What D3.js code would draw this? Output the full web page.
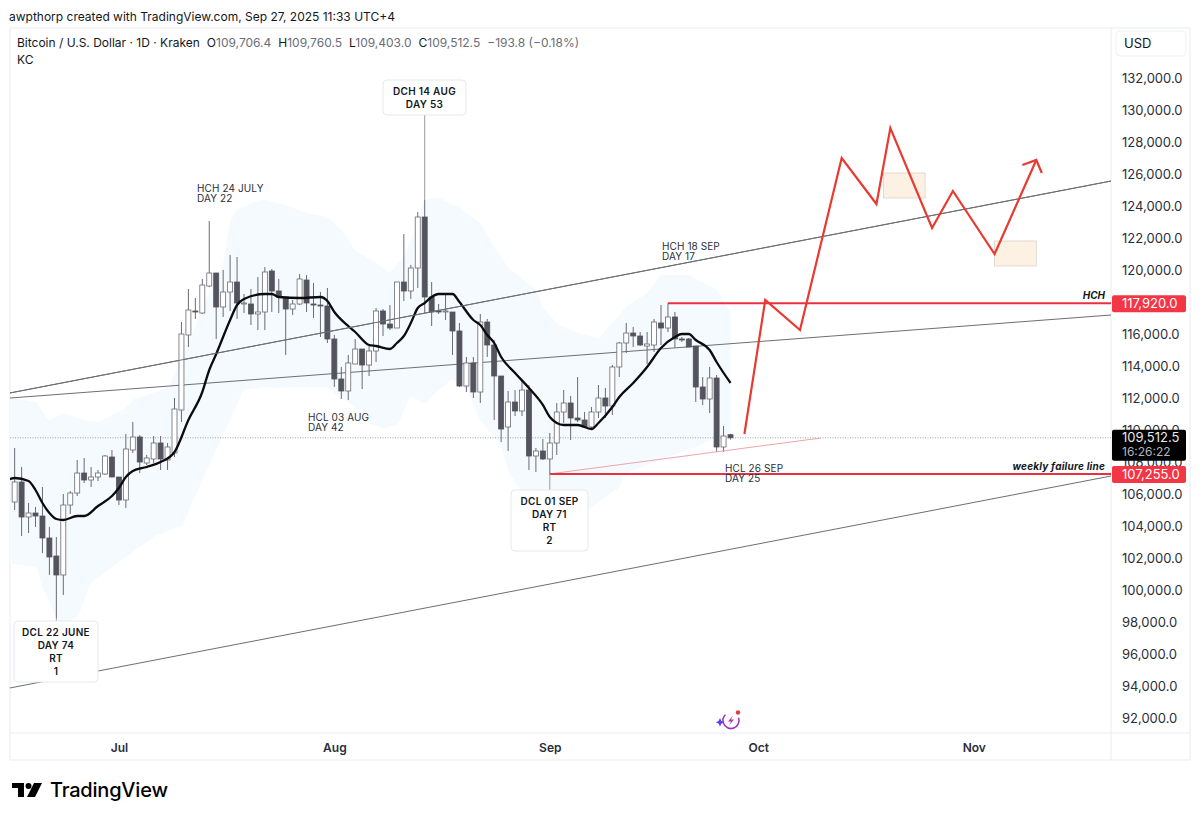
<!DOCTYPE html>
<html>
<head>
<meta charset="utf-8">
<script src="https://cdnjs.cloudflare.com/ajax/libs/d3/7.8.5/d3.min.js"></script>
<style>
  html, body { margin: 0; padding: 0; background: #fff; }
  svg { display: block; font-family: Inter, "Noto Sans", sans-serif; }
</style>
</head>
<body>
<svg id="chart" width="1200" height="820"></svg>
<script>
// daily candles from 16 Jun 2025
var firstCandle = '2025-06-16';
var opens = [105500,106750,104562,104812,104625,103250,102125,100938,105312,106062,107312,106875,107062,107250,108312,
  107062,105625,108750,109562,107938,108188,109188,108125,108562,111250,115938,117438,117312,119000,119812,
  117688,118625,119250,117875,117875,117250,117375,119938,118688,118312,117562,117875,119375,117875,117812,117750,
  115688,113188,112438,114125,115062,114062,114938,117438,116625,116375,119250,118688,120125,123312,118312,117438,117375,117375,116188,
  112750,114188,112375,116750,115312,113375,110188,111750,111188,112500,108375,108688,
  108188,109188,111125,111688,110750,110625,110188,111125,112000,111500,113938,115438,116062,115875,115250,115312,116688,116375,
  117062,115688,115688,115250,112688,111938,113250,108938,109706.4];
var highs = [108875,107688,105438,105188,106438,103938,103312,106000,106188,108125,108250,107688,107500,108438,108750,
  107062,109750,110500,109688,108438,109625,109625,109188,112000,116750,118812,118250,119438,123062,119812,
  120000,120938,120812,118500,118812,119562,120188,120062,119438,118312,118125,119750,119688,119188,118625,118875,
  115938,113938,114688,115688,115062,115250,117625,117562,117812,119250,122250,120312,123625,124375,119250,117875,118438,117375,116688,
  114562,114562,117250,116938,115625,113375,112438,112500,113125,112812,108875,109438,
  109812,111688,112500,112125,113312,111125,111438,112812,112625,114062,115500,116688,116438,116125,116125,116938,117812,117920,
  117375,115812,115750,115250,113312,113938,113438,110250,109760.5];
var lows = [105000,103375,103562,103938,102312,100938,98250,99688,104750,105875,106688,106438,106812,107188,107062,
  105312,105125,108562,107312,107812,107938,107500,107500,108312,110500,115188,116938,117250,118938,115688,
  117062,117438,116938,117312,116562,116250,116250,117375,117312,114688,117188,117812,117375,117000,115812,115438,
  112688,111938,111875,114125,112562,113375,114250,115875,116250,116375,118062,118188,118875,117312,116500,117250,116875,114688,112688,
  112375,112000,111688,114562,110625,109250,108688,110875,110875,107500,107375,108125,
  107255,108438,110438,109375,110500,110125,110125,110750,110750,110938,113312,114812,115188,115250,114125,114875,115312,116125,
  115125,115500,115188,111750,111562,111062,108625,108625,109403];
var closes = [106750,104562,104812,104625,103250,102062,100938,105312,106062,107312,106875,107062,107312,108375,107062,
  105625,108812,109562,108000,108250,109188,108188,108938,111312,116000,117500,117375,119062,119812,117688,
  118625,119250,117938,117938,117250,117375,119875,118688,118312,117562,117875,119438,117938,117812,117750,115688,
  113188,112438,114188,115062,114062,114938,117438,116625,116375,119250,118688,120125,123312,118312,117375,117375,117438,116188,112750,
  114188,112375,116750,115312,113375,110062,111750,111188,112500,108375,108688,108188,
  109188,111125,111688,110750,110625,110188,111125,112000,111500,113938,115438,116062,115875,115312,115375,116750,116375,117062,
  115688,115625,115188,112688,111938,113250,108938,109625,109512.5];

// Keltner channel, sampled as day number from the first candle
var basisDays = [-1,0,2,3,4,5,6,7,9,10,12,14,15,16,17,19,21,23,25,27,28,29,31,32,33,36,37,38,41,44,45,46,48,49,51,52,54,55,56,57,58,59,60,61,63,64,66,67,68,69,70,72,74,76,77,78,79,81,83,84,86,87,89,91,93,95,96,97,98,100,101,103];
var basisValues = [106875,107000,106813,106250,105438,104813,104438,104375,104625,104625,105250,105875,106375,107063,107438,107688,108000,108625,110625,112375,113750,114750,116875,117813,118188,118500,118500,118313,118250,118313,118063,117375,116500,116125,115313,115250,115063,115438,115875,116688,117625,117938,118313,118500,118500,118000,116875,116563,115938,115438,114563,113563,112625,111563,110813,110438,110313,110313,110063,110438,111438,112063,112938,113938,115125,115813,116000,116000,115625,115000,114250,112938];
var upperDays = [-1,3,5,7,10,12,16,17,19,22,24,28,30,31,32,34,36,39,42,45,47,49,52,54,56,58,59,61,64,67,69,71,75,76,78,81,84,86,88,91,93,97,101,103];
var upperValues = [112063,111750,110625,111063,110625,110500,111375,111875,112188,112625,114375,118563,120438,122938,123750,124188,124375,124063,123563,123313,122500,121250,120438,119875,120813,122938,124375,124500,123875,122938,121438,120188,118750,117688,116688,116063,115750,116688,117688,118563,119688,119688,118750,117375];
var lowerDays = [-1,3,4,6,7,9,11,14,17,20,23,24,28,31,33,36,38,40,42,45,46,49,51,53,55,57,59,61,63,65,67,70,71,74,77,80,83,87,88,94,98,103];
var lowerValues = [101688,101438,100188,98313,97938,98313,100438,101438,102375,103313,103875,103938,107813,110625,112500,112688,112625,112688,112688,112688,112313,111438,110438,110125,110313,112063,111688,112500,113125,112500,110625,108938,107500,105313,104375,104688,105188,106438,107313,108313,108938,109875];

// trend lines drawn on the chart [date, price]
var channelUpper = [['2025-06-15', 112288], ['2025-11-21', 125581]];
var channelMiddle = [['2025-06-15', 111988], ['2025-11-21', 117194]];
var channelLower = [['2025-06-15', 93850], ['2025-11-21', 107144]];
var pinkLine = [['2025-09-01', 107255], ['2025-10-10', 109500]];
var hchLine = [['2025-09-18', 117920], ['2025-11-21', 117920]];
var failureLine = [['2025-09-01', 107255], ['2025-11-21', 107255]];
var forecastPath = [['2025-09-29', 109750], ['2025-10-02', 118125], ['2025-10-07', 116250], ['2025-10-13', 127000],
  ['2025-10-18', 124125], ['2025-10-20', 128875], ['2025-10-26', 122625], ['2025-10-29', 124938], ['2025-11-04', 121000], ['2025-11-10', 126875]];
var forecastHead = [['2025-11-08', 126563], ['2025-11-10', 126875], ['2025-11-10T19:00', 126063]];
var boxes = [['2025-10-19', '2025-10-25', 126063, 124500], ['2025-11-04', '2025-11-10', 121813, 120250]];

var priceTicks = d3.range(92000, 132001, 2000);
var monthTicks = ['2025-07-01', '2025-08-01', '2025-09-01', '2025-10-01', '2025-11-01'];
var monthLabels = ['Jul', 'Aug', 'Sep', 'Oct', 'Nov'];

var lastPrice = 109512.5;
var tagPrices = [117920, 107255];

var calloutDates = ['2025-06-22', '2025-08-14', '2025-09-01'];
var calloutPrices = [98250, 124375, 107255];
var calloutLines = [['DCL 22 JUNE', 'DAY 74', 'RT', '1'], ['DCH 14 AUG', 'DAY 53'], ['DCL 01 SEP', 'DAY 71', 'RT', '2']];

function parseDate(s) {
  return new Date(s.length > 10 ? s + ':00Z' : s + 'T00:00:00Z');
}

var paneLeft = 10, paneRight = 1111, paneTop = 28, paneBottom = 733, frameRight = 1190, frameBottom = 760;

var x = d3.scaleUtc()
  .domain([parseDate('2025-07-01'), parseDate('2025-11-01')])
  .range([118.9, 973.75]);
var y = d3.scaleLinear()
  .domain([92000, 132000])
  .range([718, 78]);

function dayX(n) {
  return x(d3.utcDay.offset(parseDate(firstCandle), n));
}

var svg = d3.select('#chart');

svg.append('text')
  .attr('x', 9).attr('y', 21)
  .attr('font-size', 12).attr('fill', '#131722')
  .text('awpthorp created with TradingView.com, Sep 27, 2025 11:33 UTC+4');

// frame
var frame = svg.append('g').attr('stroke', '#e9ecf1').attr('fill', 'none');
frame.append('rect').attr('x', paneLeft).attr('y', paneTop)
  .attr('width', frameRight - paneLeft).attr('height', frameBottom - paneTop);
frame.append('line').attr('x1', paneRight).attr('x2', paneRight).attr('y1', paneTop).attr('y2', frameBottom);
frame.append('line').attr('x1', paneLeft).attr('x2', frameRight).attr('y1', paneBottom).attr('y2', paneBottom);

svg.append('clipPath').attr('id', 'pane').append('rect')
  .attr('x', paneLeft).attr('y', paneTop)
  .attr('width', paneRight - paneLeft).attr('height', paneBottom - paneTop);

var plot = svg.append('g').attr('clip-path', 'url(#pane)');

// Keltner band, upper and lower are sampled on different days
var merged = d3.range(-1, 104);
var upperAt = d3.scaleLinear().domain(upperDays).range(upperValues);
var lowerAt = d3.scaleLinear().domain(lowerDays).range(lowerValues);
var band = d3.area()
  .x(function (d) { return dayX(d); })
  .y0(function (d) { return y(lowerAt(d)); })
  .y1(function (d) { return y(upperAt(d)); })
  .curve(d3.curveMonotoneX);
plot.append('path').datum(merged)
  .attr('d', band)
  .attr('fill', '#f5fafe');

// dotted last price line
plot.append('line')
  .attr('x1', paneLeft).attr('x2', paneRight)
  .attr('y1', y(lastPrice)).attr('y2', y(lastPrice))
  .attr('stroke', '#8a8d96').attr('stroke-width', 0.8).attr('stroke-dasharray', '1 1.5');

var trend = d3.line()
  .x(function (d) { return x(parseDate(d[0])); })
  .y(function (d) { return y(d[1]); });

[channelUpper, channelMiddle, channelLower].forEach(function (pts) {
  plot.append('path').attr('d', trend(pts))
    .attr('fill', 'none').attr('stroke', '#6d6f76').attr('stroke-width', 1);
});

// candles
var candles = opens.map(function (o, i) {
  return { i: i, o: o, h: highs[i], l: lows[i], c: closes[i] };
});
var candle = plot.selectAll('g.candle').data(candles).enter().append('g').attr('class', 'candle');
candle.append('line')
  .attr('x1', function (d) { return dayX(d.i); })
  .attr('x2', function (d) { return dayX(d.i); })
  .attr('y1', function (d) { return y(d.h); })
  .attr('y2', function (d) { return y(d.l); })
  .attr('stroke', '#6a6b73').attr('stroke-width', 1);
candle.append('rect')
  .attr('x', function (d) { return dayX(d.i) - 2.5; })
  .attr('width', 5)
  .attr('y', function (d) { return y(Math.max(d.o, d.c)); })
  .attr('height', function (d) { return Math.max(1, Math.abs(y(d.o) - y(d.c))); })
  .attr('fill', function (d) { return d.c >= d.o ? '#fff' : '#54545e'; })
  .attr('stroke', function (d) { return d.c >= d.o ? '#6a6b73' : '#54545e'; })
  .attr('stroke-width', 0.8);

// Keltner basis
var basisLine = d3.line()
  .x(function (d, i) { return dayX(basisDays[i]); })
  .y(function (d) { return y(d); })
  .curve(d3.curveMonotoneX);
plot.append('path').attr('d', basisLine(basisValues))
  .attr('fill', 'none').attr('stroke', '#0c0c0e').attr('stroke-width', 2.3);

// red levels
plot.append('path').attr('d', trend(pinkLine)).attr('fill', 'none').attr('stroke', '#f0a3ab').attr('stroke-width', 1);
[hchLine, failureLine].forEach(function (pts) {
  plot.append('path').attr('d', trend(pts)).attr('fill', 'none').attr('stroke', '#e8303f').attr('stroke-width', 2);
});

// target boxes
plot.selectAll('rect.box').data(boxes).enter().append('rect')
  .attr('class', 'box')
  .attr('x', function (d) { return x(parseDate(d[0])); })
  .attr('y', function (d) { return y(d[2]); })
  .attr('width', function (d) { return x(parseDate(d[1])) - x(parseDate(d[0])); })
  .attr('height', function (d) { return y(d[3]) - y(d[2]); })
  .attr('fill', '#fdf1e4').attr('stroke', '#d9d2ca').attr('stroke-width', 0.8);

// redraw the channel over the boxes, forecast on top
plot.append('path').attr('d', trend(channelUpper))
  .attr('fill', 'none').attr('stroke', '#6d6f76').attr('stroke-width', 1);
[forecastPath, forecastHead].forEach(function (pts) {
  plot.append('path').attr('d', trend(pts))
    .attr('fill', 'none').attr('stroke', '#e83a30').attr('stroke-width', 2.2).attr('stroke-linejoin', 'miter');
});

// callouts, box geometry follows the order of calloutDates
var calloutLeft = [14, 383, 511];
var calloutTop = [621, 80, 490];
var calloutWidth = [84, 83, 77];
calloutDates.forEach(function (date, k) {
  var lines = calloutLines[k];
  var height = lines.length > 2 ? 61 : 35;
  var cx = x(parseDate(date));
  var tipY = y(calloutPrices[k]);
  var below = tipY < calloutTop[k];
  plot.append('line')
    .attr('x1', cx).attr('x2', cx)
    .attr('y1', below ? tipY : calloutTop[k] + height).attr('y2', below ? calloutTop[k] : tipY)
    .attr('stroke', '#9a9ca3').attr('stroke-width', 1);
  plot.append('rect')
    .attr('x', calloutLeft[k]).attr('y', calloutTop[k])
    .attr('width', calloutWidth[k]).attr('height', height).attr('rx', 4)
    .attr('fill', '#fff').attr('stroke', '#e6e8ed');
  lines.forEach(function (line, i) {
    plot.append('text')
      .attr('x', calloutLeft[k] + calloutWidth[k] / 2).attr('y', calloutTop[k] + 15 + i * 13)
      .attr('text-anchor', 'middle').attr('font-size', 10).attr('font-weight', 600)
      .attr('letter-spacing', 0.3).attr('fill', '#131722')
      .text(line);
  });
});

// plain notes
function note(left, top, lines) {
  lines.forEach(function (line, i) {
    plot.append('text')
      .attr('x', left).attr('y', top + i * 10)
      .attr('font-size', 10).attr('letter-spacing', 0.1).attr('fill', '#2a2e39')
      .text(line);
  });
}
note(197, 192, ['HCH 24 JULY', 'DAY 22']);
note(662, 250, ['HCH 18 SEP', 'DAY 17']);
note(308, 421, ['HCL 03 AUG', 'DAY 42']);
note(725, 472, ['HCL 26 SEP', 'DAY 25']);

plot.append('text').attr('x', 1105).attr('y', 299)
  .attr('text-anchor', 'end').attr('font-size', 10).attr('font-weight', 700).attr('font-style', 'italic')
  .attr('fill', '#131722').text('HCH');
plot.append('text').attr('x', 1105).attr('y', 470)
  .attr('text-anchor', 'end').attr('font-size', 10).attr('font-weight', 700).attr('font-style', 'italic')
  .attr('letter-spacing', 0.2).attr('fill', '#131722').text('weekly failure line');

// price axis
var priceFormat = d3.format(',.1f');
var yAxis = d3.axisRight(y)
  .tickValues(priceTicks)
  .tickSize(0)
  .tickPadding(11)
  .tickFormat(priceFormat);
var yG = svg.append('g')
  .attr('transform', 'translate(' + paneRight + ',0)')
  .call(yAxis);
yG.select('.domain').remove();
yG.selectAll('text').attr('font-family', 'Inter').attr('font-size', 13).attr('fill', '#2a2e39');

// month axis
var xAxis = d3.axisBottom(x)
  .tickValues(monthTicks.map(parseDate))
  .tickSize(0)
  .tickPadding(10)
  .tickFormat(function (d, i) { return monthLabels[i]; });
var xG = svg.append('g')
  .attr('transform', 'translate(0,' + paneBottom + ')')
  .call(xAxis);
xG.select('.domain').remove();
xG.selectAll('text').attr('font-family', 'Inter').attr('font-size', 12).attr('font-weight', 600).attr('fill', '#2a2e39');

// USD button
svg.append('rect').attr('x', 1116).attr('y', 31).attr('width', 70).attr('height', 25).attr('rx', 4)
  .attr('fill', '#fff').attr('stroke', '#f0f1f4');
svg.append('text').attr('x', 1124).attr('y', 48).attr('font-size', 13).attr('fill', '#131722').text('USD');

// price tags
tagPrices.forEach(function (p) {
  svg.append('rect')
    .attr('x', paneRight + 1).attr('y', y(p) - 8)
    .attr('width', 74).attr('height', 17).attr('rx', 2)
    .attr('fill', '#f23645');
  svg.append('text')
    .attr('x', paneRight + 11).attr('y', y(p) + 5)
    .attr('font-size', 13).attr('fill', '#fff')
    .text(priceFormat(p));
});
svg.append('rect')
  .attr('x', paneRight + 1).attr('y', y(lastPrice) - 8)
  .attr('width', 74).attr('height', 31).attr('rx', 2)
  .attr('fill', '#000');
svg.append('text').attr('x', paneRight + 11).attr('y', y(lastPrice) + 4.5)
  .attr('font-size', 13).attr('fill', '#e8e8ea').text(priceFormat(lastPrice));
svg.append('text').attr('x', paneRight + 11).attr('y', y(lastPrice) + 18.5)
  .attr('font-size', 12).attr('fill', '#b2b5be').text('16:26:22');

// legend
var legend = svg.append('text').attr('x', 17).attr('y', 47).attr('font-size', 12).attr('fill', '#131722');
legend.append('tspan').text('Bitcoin / U.S. Dollar \u00b7 1D \u00b7 Kraken');
var grey = '#6a6d78';
[['O', '109,706.4'], ['H', '109,760.5'], ['L', '109,403.0'], ['C', '109,512.5']].forEach(function (p) {
  legend.append('tspan').attr('dx', 7).text(p[0]);
  legend.append('tspan').attr('fill', grey).text(p[1]);
});
legend.append('tspan').attr('dx', 7).attr('fill', grey).text('\u2212193.8 (\u22120.18%)');
svg.append('text').attr('x', 17).attr('y', 64).attr('font-size', 12).attr('fill', '#131722').text('KC');

// small bolt badge
var badge = svg.append('g').attr('transform', 'translate(731,720.5)');
badge.append('circle').attr('r', 8).attr('fill', 'none').attr('stroke', '#9c2fc0').attr('stroke-width', 1.5)
  .attr('stroke-dasharray', '34 16').attr('transform', 'rotate(-20)');
badge.append('path').attr('d', 'M2-5L-3 1H0L-2 5L3-1H0Z').attr('fill', '#c2339c');
badge.append('path').attr('d', 'M-11-2.5L-9.6 0.5L-6.8 1.7L-9.6 2.9L-11 6L-12.4 2.9L-15.2 1.7L-12.4 0.5Z').attr('fill', '#5b3df0');
badge.append('circle').attr('cx', 7).attr('cy', -8).attr('r', 2.2).attr('fill', '#e23a45');

// TradingView logo
var logo = svg.append('g').attr('fill', '#000');
logo.append('path').attr('d', 'M12 783H24V797H18V788H12Z');
logo.append('circle').attr('cx', 28.5).attr('cy', 786).attr('r', 3);
logo.append('path').attr('d', 'M34 783H42L35 797H27Z');
svg.append('text').attr('x', 50).attr('y', 797).attr('font-size', 20).attr('font-weight', 500)
  .attr('letter-spacing', -0.2).attr('fill', '#000').text('TradingView');
</script>
</body>
</html>
